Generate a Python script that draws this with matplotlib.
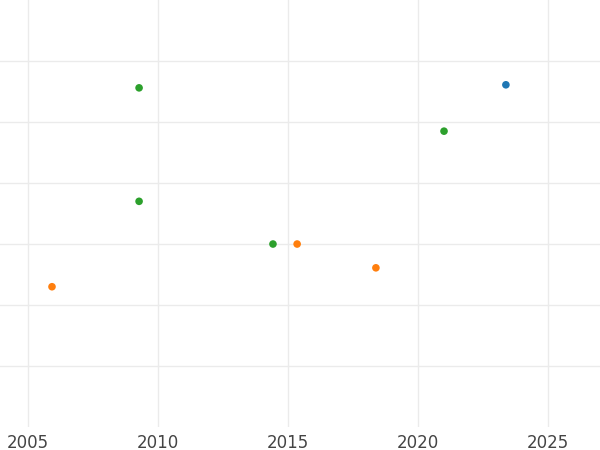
import matplotlib
matplotlib.use('Agg')
import matplotlib.pyplot as plt

# data
years = [2009.27, 2023.38, 2021.0, 2009.27, 2014.42, 2015.35, 2018.38, 2005.92]
values = [5.56, 5.61, 4.85, 3.70, 3.0, 3.0, 2.61, 2.30]
colors = ['#2ca02c', '#1f77b4', '#2ca02c', '#2ca02c', '#2ca02c',
          '#ff7f0e', '#ff7f0e', '#ff7f0e']
xticks = [2005, 2010, 2015, 2020, 2025]
yticks = [1, 2, 3, 4, 5, 6]

plt.rcParams['font.family'] = ['DejaVu Sans']
fig = plt.figure(figsize=(6, 4.5), dpi=100)
ax = fig.add_axes([0, 0.051, 1, 0.949])
ax.set_xlim(2003.92, 2027.0)
ax.set_ylim(0, 7)

ax.scatter(years, values, c=colors, s=30, zorder=3, linewidths=0)

ax.set_xticks(xticks)
ax.set_yticks(yticks)
ax.set_yticklabels([])
ax.grid(True, color='#ebebeb', linewidth=1)
for s in ax.spines.values():
    s.set_visible(False)
ax.tick_params(length=0, labelsize=12, colors='#444444', pad=5)

fig.savefig('out.png', dpi=100)
